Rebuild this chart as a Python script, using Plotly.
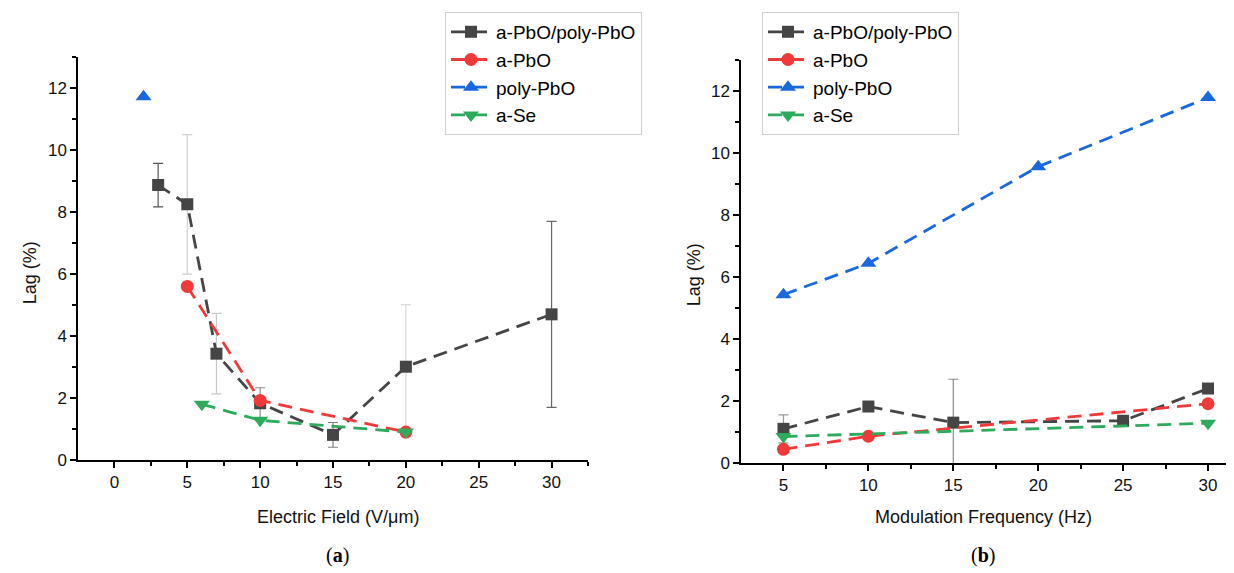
import plotly.graph_objects as go

# ============================================================
# DATA
# ============================================================

# panel (a): lag vs electric field
field_mixed = [3, 5, 7, 10, 15, 20, 30]
lag_mixed_a = [8.87, 8.25, 3.43, 1.83, 0.81, 3.01, 4.70]
err_mixed_a = [0.70, 2.25, 1.30, 0.50, 0.40, 2.00, 3.00]

field_apbo = [5, 10, 20]
lag_apbo_a = [5.60, 1.92, 0.90]

field_poly = [2]
lag_poly_a = [11.72]

field_se = [6, 10, 20]
lag_se_a = [1.80, 1.28, 0.90]

# panel (b): lag vs modulation frequency
freq_mixed = [5, 10, 15, 25, 30]
lag_mixed_b = [1.10, 1.82, 1.30, 1.36, 2.40]
err_mixed_b = [0.45, 0.0, 1.40, 0.0, 0.0]

freq_apbo = [5, 10, 30]
lag_apbo_b = [0.44, 0.86, 1.91]

freq_poly = [5, 10, 20, 30]
lag_poly_b = [5.43, 6.44, 9.56, 11.79]

freq_se = [5, 30]
lag_se_b = [0.85, 1.28]

series_names = ["a-PbO/poly-PbO", "a-PbO", "poly-PbO", "a-Se"]

# ============================================================
# STYLE
# ============================================================

W, H = 1234, 573
FONT = "Liberation Sans, Arial, sans-serif"
colors = ["#454545", "#f03a3a", "#1a68e0", "#2eaa5c"]
symbols = ["square", "circle", "triangle-up", "triangle-down"]
sizes = [12, 13, 14, 14]
DASH = "14px,8px"

# error bars in the reference are drawn with varying grey shades
err_shade_a = ["#555555", "#cfcfcf", "#c8c8c8", "#8a8a8a", "#808080", "#dadada", "#666666"]
err_shade_b = ["#999999", "#999999", "#8c8c8c", "#999999", "#999999"]


def px_x(p):
    return p / W


def px_y(p):
    return 1 - p / H


fig = go.Figure()


def add_errors(xs, ys, errs, shades, xa, ya):
    for x, y, e, c in zip(xs, ys, errs, shades):
        if e <= 0:
            continue
        fig.add_trace(
            go.Scatter(
                x=[x], y=[y], mode="markers",
                marker=dict(size=1, color="rgba(0,0,0,0)"),
                error_y=dict(type="data", array=[e], color=c, thickness=1.2, width=5),
                xaxis=xa, yaxis=ya, showlegend=False, hoverinfo="skip",
            )
        )


def add_series(xs, ys, i, xa, ya, legend):
    fig.add_trace(
        go.Scatter(
            x=xs, y=ys, mode="lines+markers", name=series_names[i],
            line=dict(color=colors[i], width=2.8, dash=DASH),
            marker=dict(symbol=symbols[i], size=sizes[i], color=colors[i]),
            xaxis=xa, yaxis=ya, legend=legend,
        )
    )


add_errors(field_mixed, lag_mixed_a, err_mixed_a, err_shade_a, "x", "y")
add_errors(freq_mixed, lag_mixed_b, err_mixed_b, err_shade_b, "x2", "y2")

panel_a = [(field_mixed, lag_mixed_a), (field_apbo, lag_apbo_a),
           (field_poly, lag_poly_a), (field_se, lag_se_a)]
panel_b = [(freq_mixed, lag_mixed_b), (freq_apbo, lag_apbo_b),
           (freq_poly, lag_poly_b), (freq_se, lag_se_b)]

for i, (xs, ys) in enumerate(panel_a):
    add_series(xs, ys, i, "x", "y", "legend")
for i, (xs, ys) in enumerate(panel_b):
    add_series(xs, ys, i, "x2", "y2", "legend2")

axis_common = dict(
    showline=True, linecolor="black", linewidth=1.5,
    ticks="outside", ticklen=6, tickwidth=1.5, tickcolor="black",
    showgrid=False, zeroline=False,
    tickfont=dict(family=FONT, size=17, color="#111"),
)

legend_common = dict(
    bgcolor="white", bordercolor="#d0d0d0", borderwidth=1,
    font=dict(family=FONT, size=19, color="black"),
    xanchor="left", yanchor="top", tracegroupgap=0, itemwidth=40,
)

fig.update_layout(
    width=W, height=H,
    margin=dict(l=0, r=0, t=0, b=0),
    paper_bgcolor="white", plot_bgcolor="white",
    xaxis=dict(
        domain=[px_x(70), px_x(580)], range=[-2.5, 32.5],
        tickvals=[0, 5, 10, 15, 20, 25, 30], anchor="y",
        minor=dict(tickvals=[2.5, 7.5, 12.5, 17.5, 22.5, 27.5, 32.5],
                   ticks="outside", ticklen=4, tickcolor="black", tickwidth=1.5),
        **axis_common,
    ),
    yaxis=dict(
        domain=[px_y(460), px_y(50)], range=[0, 13], dtick=2, anchor="x",
        minor=dict(dtick=1, ticks="outside", ticklen=4, tickcolor="black", tickwidth=1.5),
        **axis_common,
    ),
    xaxis2=dict(
        domain=[px_x(733), 1.0], range=[2.5, 32.0],
        tickvals=[5, 10, 15, 20, 25, 30], anchor="y2",
        minor=dict(tickvals=[7.5, 12.5, 17.5, 22.5, 27.5],
                   ticks="outside", ticklen=4, tickcolor="black", tickwidth=1.5),
        **axis_common,
    ),
    yaxis2=dict(
        domain=[px_y(463), px_y(53)], range=[0, 13], dtick=2, anchor="x2",
        minor=dict(dtick=1, ticks="outside", ticklen=4, tickcolor="black", tickwidth=1.5),
        **axis_common,
    ),
    legend=dict(x=px_x(437), y=px_y(4), **legend_common),
    legend2=dict(x=px_x(754), y=px_y(4), **legend_common),
)

title_font = dict(family=FONT, size=18, color="#111")
label_font = dict(family="Liberation Serif, Times New Roman, serif", size=20, color="black")

annotations = [
    dict(x=px_x(22), y=px_y(270), text="Lag (%)", textangle=-90, font=title_font),
    dict(x=px_x(686), y=px_y(272), text="Lag (%)", textangle=-90, font=title_font),
    dict(x=px_x(330), y=px_y(518), text="Electric Field (V/μm)", font=title_font),
    dict(x=px_x(975), y=px_y(518), text="Modulation Frequency (Hz)", font=title_font),
    dict(x=px_x(330), y=px_y(557), text="(<b>a</b>)", font=label_font),
    dict(x=px_x(975), y=px_y(557), text="(<b>b</b>)", font=label_font),
]
for a in annotations:
    fig.add_annotation(xref="paper", yref="paper", showarrow=False,
                       xanchor="center", yanchor="middle", **a)

fig.write_html("out.html")
